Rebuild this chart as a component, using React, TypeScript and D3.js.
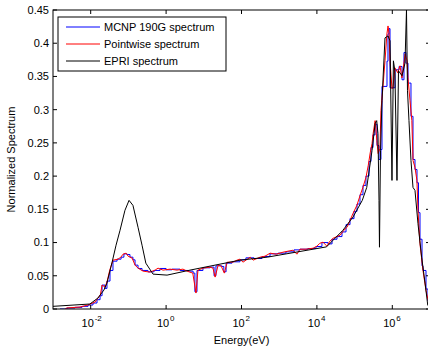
import React from "react";
import * as d3 from "d3";

// MCNP 190 group spectrum (group lower edge in eV, value)
const mcnpEnergy = [1.53e-3, 2.35e-3, 3.84e-3, 5.9e-3, 8.5e-3, 1.15e-2, 1.47e-2, 1.77e-2, 2.0e-2, 2.4e-2, 2.7e-2, 3.25e-2, 3.9e-2, 5.0e-2, 6.4e-2, 7.6e-2, 9.2e-2, 0.11, 0.132, 0.15, 0.18, 0.23, 0.33, 0.48, 0.69, 1.0, 1.43, 2.34, 3.8, 5.2, 5.8, 6.6, 9.5, 14.6, 18.7, 21, 30, 34, 39, 56, 91, 131, 215, 350, 570, 930, 1510, 2470, 3560, 5800, 9460, 13600, 19700, 25200, 34100, 46300, 59200, 75500, 96400, 1.16e5, 1.39e5, 1.67e5, 2.0e5, 2.41e5, 2.72e5, 3.08e5, 3.48e5, 3.93e5, 4.44e5, 5.0e5, 5.33e5, 7.23e5, 7.69e5, 8.17e5, 8.69e5, 1.18e6, 1.51e6, 1.81e6, 2.04e6, 2.31e6, 2.61e6, 3.13e6, 3.54e6, 4.0e6, 4.52e6, 4.95e6, 5.43e6, 6.14e6, 6.52e6, 7.83e6, 8.85e6, 1.07e7];
const mcnpValue = [0.0, 0.0015, 0.0025, 0.004, 0.006, 0.009, 0.014, 0.02, 0.036, 0.031, 0.042, 0.058, 0.072, 0.075, 0.078, 0.083, 0.082, 0.078, 0.074, 0.066, 0.061, 0.058, 0.056, 0.058, 0.061, 0.059, 0.06, 0.058, 0.057, 0.054, 0.026, 0.058, 0.062, 0.063, 0.05, 0.065, 0.064, 0.056, 0.069, 0.071, 0.074, 0.077, 0.076, 0.079, 0.083, 0.084, 0.086, 0.089, 0.09, 0.091, 0.094, 0.1, 0.098, 0.105, 0.109, 0.116, 0.127, 0.136, 0.147, 0.158, 0.172, 0.186, 0.2, 0.222, 0.243, 0.262, 0.278, 0.246, 0.225, 0.24, 0.335, 0.373, 0.414, 0.422, 0.333, 0.36, 0.365, 0.345, 0.386, 0.37, 0.34, 0.29, 0.225, 0.21, 0.19, 0.145, 0.105, 0.065, 0.058, 0.03, 0.012, 0.012];

// Pointwise spectrum
const pointEnergy = [2.1e-3, 2.3e-3, 5.2e-3, 8.5e-3, 1.3e-2, 1.8e-2, 2.0e-2, 2.4e-2, 2.7e-2, 3.2e-2, 3.9e-2, 5.3e-2, 6.3e-2, 7.2e-2, 8.7e-2, 9.8e-2, 0.126, 0.15, 0.18, 0.245, 0.37, 0.51, 0.61, 0.83, 1.27, 1.95, 2.8, 3.6, 5.1, 6.2, 7.0, 9.6, 14.6, 17.5, 20, 24, 29, 35, 42, 59, 76, 91, 110, 170, 204, 310, 420, 575, 830, 1260, 1700, 2340, 2950, 3550, 5130, 7900, 1.0e4, 1.2e4, 1.45e4, 1.85e4, 2.2e4, 2.7e4, 4.1e4, 5.2e4, 6.3e4, 7.6e4, 9.1e4, 1.15e5, 1.4e5, 1.66e5, 2.0e5, 2.3e5, 2.6e5, 2.9e5, 3.1e5, 3.5e5, 3.9e5, 4.2e5, 4.7e5, 5.0e5, 5.6e5, 6.4e5, 7.2e5, 7.7e5, 8.2e5, 8.7e5, 9.8e5, 1.04e6, 1.17e6, 1.4e6, 1.6e6, 1.8e6, 2.2e6, 2.46e6, 2.6e6, 2.95e6, 3.3e6, 3.55e6, 4.0e6, 4.5e6, 4.8e6, 5.4e6, 6.5e6, 7.8e6, 8.9e6, 1.07e7];
const pointValue = [0.0, 0.0015, 0.003, 0.006, 0.0105, 0.021, 0.036, 0.033, 0.0405, 0.0585, 0.0735, 0.075, 0.078, 0.0825, 0.084, 0.0795, 0.0765, 0.066, 0.0615, 0.057, 0.0555, 0.0585, 0.0615, 0.0585, 0.06, 0.0585, 0.06, 0.057, 0.054, 0.024, 0.0585, 0.0615, 0.063, 0.0615, 0.048, 0.066, 0.0645, 0.054, 0.0705, 0.0705, 0.0735, 0.075, 0.0705, 0.078, 0.0735, 0.078, 0.0795, 0.084, 0.0825, 0.0855, 0.087, 0.0885, 0.0825, 0.09, 0.09, 0.0915, 0.0945, 0.099, 0.1005, 0.0945, 0.102, 0.1065, 0.111, 0.1185, 0.123, 0.1335, 0.144, 0.156, 0.171, 0.183, 0.198, 0.216, 0.2355, 0.249, 0.264, 0.2835, 0.2535, 0.234, 0.2415, 0.2985, 0.3315, 0.3735, 0.414, 0.426, 0.414, 0.3735, 0.3315, 0.333, 0.363, 0.3555, 0.366, 0.348, 0.384, 0.3735, 0.348, 0.3135, 0.2835, 0.2235, 0.213, 0.1935, 0.1485, 0.099, 0.0585, 0.0285, 0.0135, 0.0045];

// EPRI spectrum
const epriEnergy = [1e-3, 9.5e-3, 1.55e-2, 2.24e-2, 2.7e-2, 3.7e-2, 4.7e-2, 6.0e-2, 8.1e-2, 0.104, 0.132, 0.18, 0.23, 0.29, 0.45, 1.06, 4.3, 7.9, 91, 480, 1.8e4, 4.9e4, 9.1e4, 1.6e5, 2.1e5, 2.9e5, 3.5e5, 3.85e5, 4.17e5, 4.44e5, 4.57e5, 4.86e5, 5.33e5, 6.4e5, 7.7e5, 8.7e5, 9.8e5, 1.07e6, 1.17e6, 1.33e6, 1.46e6, 1.81e6, 2.17e6, 2.38e6, 2.53e6, 2.77e6, 3.13e6, 3.54e6, 4.0e6, 4.79e6, 6.0e6, 7.4e6, 8.7e6, 1.07e7];
const epriValue = [0.004, 0.0075, 0.0165, 0.0285, 0.039, 0.0705, 0.096, 0.1185, 0.1485, 0.1635, 0.156, 0.123, 0.096, 0.069, 0.0525, 0.051, 0.0585, 0.0615, 0.0735, 0.078, 0.0935, 0.1185, 0.1385, 0.1635, 0.183, 0.2385, 0.279, 0.2835, 0.264, 0.1635, 0.093, 0.2385, 0.3135, 0.408, 0.411, 0.4035, 0.1935, 0.3735, 0.3585, 0.1935, 0.3585, 0.351, 0.37, 0.45, 0.3285, 0.2835, 0.2235, 0.183, 0.1785, 0.129, 0.078, 0.039, 0.006, 0.0];

const xTicks = [1e-2, 1e0, 1e2, 1e4, 1e6];
const yTicks = [0, 0.05, 0.1, 0.15, 0.2, 0.25, 0.3, 0.35, 0.4, 0.45];

const series = [
  { name: "MCNP 190G spectrum", color: "#0000ff", xs: mcnpEnergy, ys: mcnpValue, step: true },
  { name: "Pointwise spectrum", color: "#ff0000", xs: pointEnergy, ys: pointValue, step: false },
  { name: "EPRI spectrum", color: "#000000", xs: epriEnergy, ys: epriValue, step: false },
];

const width = 428;
const height = 349;
const margin = { top: 10, right: -2, bottom: 40, left: 53 };
const font = "Arial, 'Liberation Sans', Helvetica, sans-serif";

const App = () => {
  const x = d3.scaleLog().domain([1e-3, 1e7]).range([margin.left, width - margin.right]);
  const y = d3.scaleLinear().domain([0, 0.45]).range([height - margin.bottom, margin.top]);
  const x0 = x.range()[0], x1 = x.range()[1];
  const y0 = y.range()[0], y1 = y.range()[1];

  const makePath = (s) => {
    const pts = s.xs.map((e, i) => [e, s.ys[i]]);
    return d3.line()
      .x(d => x(d[0]))
      .y(d => y(d[1]))
      .curve(s.step ? d3.curveStepAfter : d3.curveLinear)(pts);
  };

  return (
    <svg width={width} height={height} style={{ position: "absolute", left: 0, top: 0, background: "#fff" }} fontFamily={font}>
      <defs>
        <clipPath id="plot">
          <rect x={x0} y={y1} width={x1 - x0} height={y0 - y1} />
        </clipPath>
      </defs>

      {/* series */}
      <g clipPath="url(#plot)" fill="none">
        {series.map(s => (
          <path key={s.name} d={makePath(s)} stroke={s.color} strokeWidth={1} strokeLinejoin="miter" />
        ))}
      </g>

      {/* frame */}
      <rect x={x0} y={y1} width={x1 - x0} height={y0 - y1} fill="none" stroke="#000" strokeWidth={1} />

      {/* y ticks */}
      {yTicks.map(t => (
        <g key={t}>
          <line x1={x0} x2={x0 + 4} y1={y(t)} y2={y(t)} stroke="#000" />
          <line x1={x1} x2={x1 - 4} y1={y(t)} y2={y(t)} stroke="#000" />
          <text x={x0 - 4} y={y(t)} dy="0.35em" textAnchor="end" fontSize={11}>{String(t)}</text>
        </g>
      ))}

      {/* x ticks */}
      {xTicks.map(t => (
        <g key={t}>
          <line x1={x(t)} x2={x(t)} y1={y0} y2={y0 - 4} stroke="#000" />
          <line x1={x(t)} x2={x(t)} y1={y1} y2={y1 + 4} stroke="#000" />
          <text x={x(t) - 3} y={y0 + 18} textAnchor="middle" fontSize={11}>
            10
          </text>
          <text x={x(t) + 4} y={y0 + 12} textAnchor="start" fontSize={8}>
            {Math.round(Math.log10(t))}
          </text>
        </g>
      ))}

      {/* axis labels */}
      <text x={(x0 + 430) / 2} y={height - 5} textAnchor="middle" fontSize={11}>Energy(eV)</text>
      <text transform={`translate(15,${(y0 + y1) / 2}) rotate(-90)`} textAnchor="middle" fontSize={11}>Normalized Spectrum</text>

      {/* legend */}
      <g>
        <rect x={58} y={17} width={168} height={54} fill="#fff" stroke="#000" strokeWidth={1} />
        {series.map((s, i) => (
          <g key={s.name} transform={`translate(0,${27 + i * 17})`}>
            <line x1={66} x2={100} y1={0} y2={0} stroke={s.color} strokeWidth={1} />
            <text x={104} y={0} dy="0.35em" fontSize={11}>{s.name}</text>
          </g>
        ))}
      </g>
    </svg>
  );
};

export default App;
